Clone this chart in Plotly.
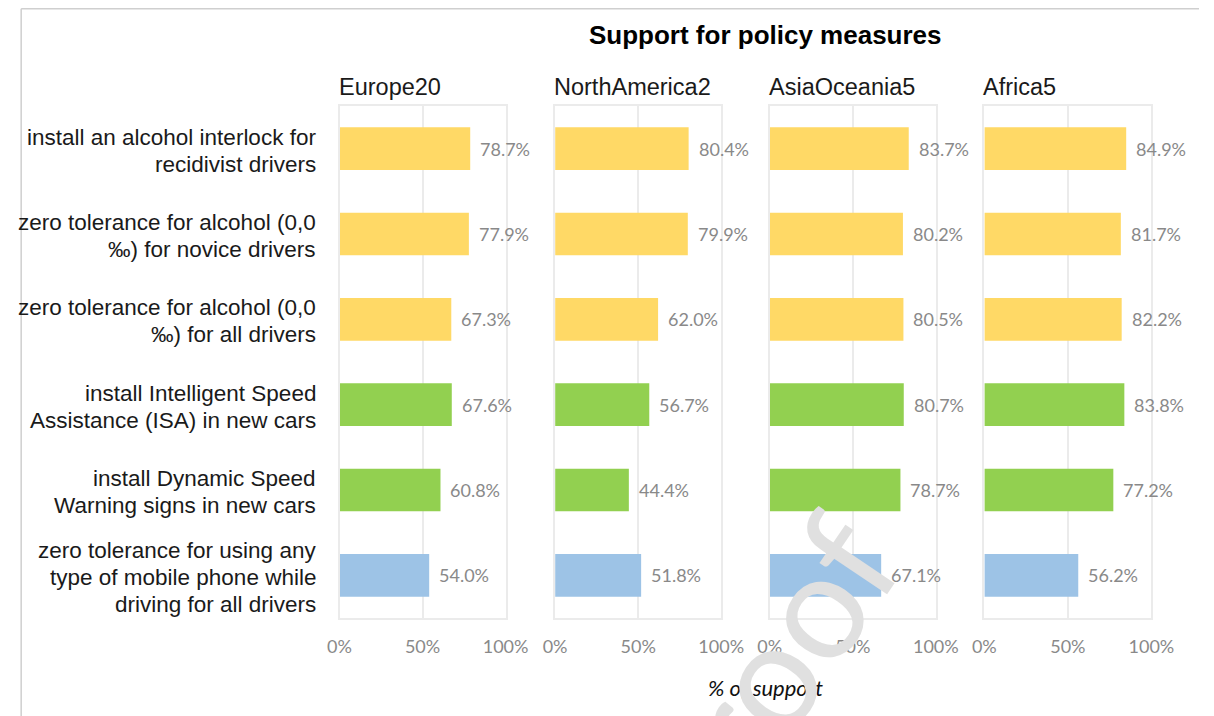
import plotly.graph_objects as go

# ---- data ----
title = "Support for policy measures"
x_title = "% of support"
categories = [
    "install an alcohol interlock for<br>recidivist drivers",
    "zero tolerance for alcohol (0,0<br>‰) for novice drivers",
    "zero tolerance for alcohol (0,0<br>‰) for all drivers",
    "install Intelligent Speed<br>Assistance (ISA) in new cars",
    "install Dynamic Speed<br>Warning signs in new cars",
    "zero tolerance for using any<br>type of mobile phone while<br>driving for all drivers",
]
regions = ["Europe20", "NorthAmerica2", "AsiaOceania5", "Africa5"]
europe20 = [78.7, 77.9, 67.3, 67.6, 60.8, 54.0]
north_america2 = [80.4, 79.9, 62.0, 56.7, 44.4, 51.8]
asia_oceania5 = [83.7, 80.2, 80.5, 80.7, 78.7, 67.1]
africa5 = [84.9, 81.7, 82.2, 83.8, 77.2, 56.2]
series = [europe20, north_america2, asia_oceania5, africa5]
tick_vals = [0, 50, 100]
tick_text = ["0%", "50%", "100%"]
watermark = "proof"

# ---- style ----
W, H = 1214, 716
OFF = 8  # page body margin
YELLOW, GREEN, BLUE = "#FFD966", "#92D050", "#9DC3E6"
bar_colors = [YELLOW, YELLOW, YELLOW, GREEN, GREEN, BLUE]
GRID = "#ebebeb"
LABEL_GRAY = "#898989"
TEXT = "#1a1a1a"
panel_px = [(337, 508), (559, 730), (780, 951), (1001, 1173)]
plot_top_px, plot_bot_px = 106, 618
LINE_STEP = 27

def px(x):
    return (x - OFF) / W

def py(y):
    return 1 - (y - OFF) / H

fig = go.Figure()
annotations = []

for i, (name, vals) in enumerate(zip(regions, series)):
    xa = "x" if i == 0 else f"x{i+1}"
    ya = "y" if i == 0 else f"y{i+1}"
    fig.add_trace(go.Bar(
        x=vals, y=categories, orientation="h",
        marker=dict(color=bar_colors, line=dict(width=0)),
        width=0.5, xaxis=xa, yaxis=ya, showlegend=False,
        hoverinfo="x+y",
    ))
    x0, x1 = panel_px[i]
    axis_x = dict(
        domain=[px(x0), px(x1)], range=[0, 100], anchor=ya,
        tickvals=tick_vals, ticktext=tick_text,
        showgrid=True, gridcolor=GRID, gridwidth=2,
        showline=True, mirror=True, linecolor=GRID, linewidth=2,
        zeroline=False, ticks="outside", ticklen=11,
        tickcolor="rgba(0,0,0,0)",
        tickfont=dict(family="Lato", size=18, color=LABEL_GRAY),
        fixedrange=True,
    )
    axis_y = dict(
        domain=[py(plot_bot_px), py(plot_top_px)], anchor=xa,
        autorange="reversed", showticklabels=False,
        showgrid=False, showline=True, mirror=True,
        linecolor=GRID, linewidth=2, zeroline=False,
        fixedrange=True,
    )
    fig.update_layout(**{
        ("xaxis" if i == 0 else f"xaxis{i+1}"): axis_x,
        ("yaxis" if i == 0 else f"yaxis{i+1}"): axis_y,
    })
    # panel title
    annotations.append(dict(
        text=name, xref="paper", yref="paper", x=px(x0 - 3), y=py(87),
        xanchor="left", yanchor="middle", showarrow=False,
        font=dict(family="Liberation Sans", size=23.5, color=TEXT),
    ))
    # data labels
    for cat, v in zip(categories, vals):
        annotations.append(dict(
            text=f"{v:.1f}%", xref=xa, yref=ya, x=v, y=cat,
            xanchor="left", yanchor="middle", xshift=8, showarrow=False,
            font=dict(family="Lato", size=18, color=LABEL_GRAY),
        ))

# category labels (one annotation per line for tight line spacing)
for cat in categories:
    lines = cat.split("<br>")
    n = len(lines)
    for k, line in enumerate(lines):
        annotations.append(dict(
            text=line, xref="paper", yref="y", x=px(315), y=cat,
            xanchor="right", yanchor="middle", showarrow=False,
            yshift=((n - 1) / 2 - k) * LINE_STEP - 2,
            font=dict(family="Liberation Sans", size=22.5, color=TEXT),
        ))

# chart title
annotations.append(dict(
    text=f"<b>{title}</b>", xref="paper", yref="paper", x=px(776), y=py(35),
    xanchor="center", yanchor="middle", showarrow=False,
    font=dict(family="Liberation Sans", size=26, color="#000000"),
))
# x axis title
annotations.append(dict(
    text=f"<i>{x_title}</i>", xref="paper", yref="paper", x=px(776), y=py(687),
    xanchor="center", yanchor="middle", showarrow=False,
    font=dict(family="Lato", size=22, color="#111111"),
))
# watermark
annotations.append(dict(
    text=watermark, xref="paper", yref="paper", x=px(772), y=py(678),
    xanchor="center", yanchor="middle", showarrow=False, textangle=-56,
    font=dict(family="Lato", size=148, color="#e0e0e0"),
))

shapes = [
    dict(type="line", xref="paper", yref="paper", x0=0.001, x1=0.001, y0=0, y1=0.999,
         line=dict(color="#cfcfcf", width=1.5), layer="below"),
    dict(type="line", xref="paper", yref="paper", x0=0.001, x1=1, y0=0.999, y1=0.999,
         line=dict(color="#cfcfcf", width=1.5), layer="below"),
]

fig.update_layout(
    width=W, height=H,
    margin=dict(l=0, r=0, t=0, b=0),
    paper_bgcolor="white", plot_bgcolor="white",
    annotations=annotations, shapes=shapes,
)

fig.write_html("out.html")
